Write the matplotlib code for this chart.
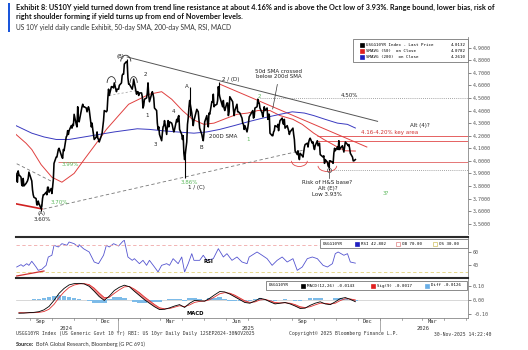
import numpy as np
import pandas as pd
import matplotlib
matplotlib.use("Agg")
import matplotlib.pyplot as plt
import matplotlib.dates as mdates
from matplotlib.patches import Arc, Rectangle
from matplotlib.transforms import blended_transform_factory

# ---------------- data ----------------
holidays = ["2024-09-02", "2024-10-14", "2024-11-11", "2024-11-28", "2024-12-25",
            "2025-01-01", "2025-01-20", "2025-02-17", "2025-04-18", "2025-05-26",
            "2025-06-19", "2025-07-04", "2025-09-01", "2025-10-13", "2025-11-11",
            "2025-11-27"]

# daily closes, US 10Y yield, 12-Aug-2024 .. 28-Nov-2025
closes = [
    3.90, 3.85, 3.83, 3.92, 3.89, 3.87, 3.81, 3.80, 3.86, 3.80, 3.82, 3.83, 3.84, 3.86, 3.91,  # Aug 24
    3.84, 3.77, 3.73, 3.71, 3.70, 3.65, 3.65, 3.68, 3.66, 3.62, 3.64, 3.70, 3.73, 3.73,
    3.75, 3.73, 3.79, 3.79, 3.75, 3.78,  # Sep
    3.74, 3.79, 3.85, 3.98, 4.03, 4.03, 4.06, 4.09, 4.10, 4.03, 4.02, 4.09, 4.08,
    4.19, 4.20, 4.24, 4.21, 4.24, 4.28, 4.26, 4.29, 4.28,  # Oct
    4.37, 4.29, 4.27, 4.43, 4.33, 4.31, 4.43, 4.45, 4.43, 4.43, 4.42, 4.39, 4.41, 4.43,
    4.41, 4.27, 4.30, 4.25, 4.17,  # Nov
    4.19, 4.23, 4.18, 4.17, 4.15, 4.20, 4.22, 4.27, 4.32, 4.40, 4.39, 4.40, 4.50, 4.57,
    4.52, 4.59, 4.59, 4.58, 4.62, 4.55, 4.57,  # Dec
    4.57, 4.60, 4.62, 4.68, 4.69, 4.69, 4.77, 4.79, 4.78, 4.66, 4.61, 4.61, 4.57, 4.60,
    4.65, 4.62, 4.53, 4.55, 4.55, 4.52, 4.54,  # Jan 25
    4.54, 4.51, 4.42, 4.44, 4.49, 4.50, 4.54, 4.62, 4.52, 4.47, 4.55, 4.53, 4.50, 4.42,
    4.40, 4.30, 4.25, 4.27, 4.21,  # Feb
    4.16, 4.22, 4.27, 4.28, 4.32, 4.21, 4.28, 4.32, 4.27, 4.31, 4.30, 4.28, 4.25, 4.23,
    4.25, 4.33, 4.31, 4.35, 4.36, 4.25, 4.21,  # Mar
    4.17, 4.20, 4.06, 4.01, 4.15, 4.29, 4.34, 4.42, 4.48, 4.38, 4.33, 4.28, 4.32, 4.41,
    4.40, 4.39, 4.32, 4.26, 4.21, 4.18, 4.16,  # Apr
    4.22, 4.31, 4.36, 4.30, 4.27, 4.38, 4.37, 4.47, 4.47, 4.53, 4.43, 4.44, 4.45, 4.48,
    4.59, 4.54, 4.51, 4.43, 4.48, 4.42, 4.40,  # May
    4.46, 4.46, 4.36, 4.39, 4.51, 4.48, 4.47, 4.41, 4.36, 4.40, 4.45, 4.39, 4.39, 4.38,
    4.34, 4.30, 4.29, 4.25, 4.28, 4.23,  # Jun
    4.26, 4.30, 4.35, 4.39, 4.40, 4.34, 4.35, 4.42, 4.43, 4.49, 4.46, 4.46, 4.42, 4.38,
    4.35, 4.39, 4.43, 4.40, 4.42, 4.33, 4.37, 4.37,  # Jul
    4.22, 4.20, 4.20, 4.23, 4.24, 4.28, 4.27, 4.29, 4.24, 4.29, 4.32, 4.34, 4.30, 4.29,
    4.33, 4.26, 4.28, 4.26, 4.24, 4.21, 4.23,  # Aug
    4.26, 4.21, 4.17, 4.08, 4.05, 4.08, 4.04, 4.01, 4.06, 4.04, 4.03, 4.07, 4.11, 4.13,
    4.14, 4.11, 4.15, 4.17, 4.18, 4.14, 4.15,  # Sep
    4.11, 4.09, 4.12, 4.16, 4.12, 4.13, 4.14, 4.05, 4.03, 4.04, 3.98, 4.01, 3.99, 3.96,
    3.95, 4.00, 4.00, 3.99, 3.98, 4.06, 4.10, 4.08,  # Oct
    4.11, 4.09, 4.16, 4.09, 4.10, 4.12, 4.07, 4.11, 4.15, 4.13, 4.12, 4.13, 4.10, 4.06,
    4.03, 4.00, 4.00, 4.01,  # Nov
]

# intraday extremes that stick out of the candle band
wick_dates = ["2024-09-16", "2025-01-14", "2025-04-04", "2025-04-11", "2025-05-22", "2025-10-22"]
wick_lo = [3.60, 4.74, 3.86, 4.36, 4.52, 3.93]
wick_hi = [3.66, 4.81, 4.07, 4.59, 4.63, 3.99]

sma50_dates = ["2024-08-12", "2024-08-26", "2024-09-03", "2024-09-16", "2024-10-01",
               "2024-10-15", "2024-11-01", "2024-11-15", "2024-12-02", "2024-12-16",
               "2025-01-02", "2025-01-16", "2025-02-03", "2025-02-14", "2025-03-03",
               "2025-03-17", "2025-04-01", "2025-04-15", "2025-05-01", "2025-05-15",
               "2025-06-02", "2025-06-16", "2025-07-01", "2025-07-15", "2025-08-01",
               "2025-08-15", "2025-09-02", "2025-09-15", "2025-10-01", "2025-10-15",
               "2025-11-03", "2025-11-14", "2025-11-28"]
sma50 = [4.21, 4.14, 4.09, 3.97, 3.87, 3.83, 3.90, 4.01, 4.14, 4.25, 4.36, 4.45, 4.50,
         4.53, 4.55, 4.49, 4.40, 4.33, 4.29, 4.30, 4.34, 4.37, 4.38, 4.40, 4.40, 4.36,
         4.33, 4.29, 4.22, 4.17, 4.11, 4.08, 4.078]

sma200_dates = ["2024-08-12", "2024-09-03", "2024-09-20", "2024-10-07", "2024-10-25",
                "2024-11-15", "2024-12-06", "2024-12-27", "2025-01-28", "2025-02-14",
                "2025-03-03", "2025-03-24", "2025-04-17", "2025-05-05", "2025-05-23",
                "2025-06-12", "2025-07-01", "2025-07-22", "2025-08-15", "2025-09-01",
                "2025-09-18", "2025-10-01", "2025-10-17", "2025-11-03", "2025-11-17",
                "2025-11-28"]
sma200 = [4.28, 4.22, 4.19, 4.17, 4.17, 4.19, 4.21, 4.23, 4.255, 4.25, 4.24, 4.23, 4.22,
          4.23, 4.25, 4.28, 4.31, 4.34, 4.37, 4.39, 4.38, 4.36, 4.33, 4.30, 4.29, 4.261]

rsi_dates = ["2024-08-13", "2024-08-19", "2024-08-22", "2024-08-27", "2024-08-30",
             "2024-09-03", "2024-09-09", "2024-09-12", "2024-09-17", "2024-09-23", "2024-09-26",
             "2024-10-01", "2024-10-04", "2024-10-10", "2024-10-15", "2024-10-22", "2024-10-25",
             "2024-11-01", "2024-11-07", "2024-11-08", "2024-11-14", "2024-11-22", "2024-11-29",
             "2024-12-05", "2024-12-12", "2024-12-16", "2024-12-20", "2024-12-26",
             "2025-01-02", "2025-01-08", "2025-01-10", "2025-01-15", "2025-01-21", "2025-01-24",
             "2025-01-31", "2025-02-05", "2025-02-10", "2025-02-14", "2025-02-21", "2025-02-26",
             "2025-03-03", "2025-03-10", "2025-03-14", "2025-03-19", "2025-03-26", "2025-03-31",
             "2025-04-04", "2025-04-09", "2025-04-14", "2025-04-17", "2025-04-25", "2025-04-30",
             "2025-05-05", "2025-05-14", "2025-05-21", "2025-05-28", "2025-06-02", "2025-06-09",
             "2025-06-16", "2025-06-23", "2025-06-30", "2025-07-03", "2025-07-14", "2025-07-21",
             "2025-07-28", "2025-08-04", "2025-08-11", "2025-08-18", "2025-08-25", "2025-09-02",
             "2025-09-08", "2025-09-15", "2025-09-22", "2025-09-29", "2025-10-06", "2025-10-14",
             "2025-10-20", "2025-10-27", "2025-10-31", "2025-11-04", "2025-11-12", "2025-11-17",
             "2025-11-21", "2025-11-28"]
rsi = [37, 40.5, 38, 42, 39.5,
       45.6, 37, 32, 33.6, 39.5, 52,
       54.6, 69.6, 67, 72, 69.6, 74.5,
       72, 67, 70.5, 64.5, 59.5, 44.5,
       42, 54.6, 69.6, 67, 72,
       68.5, 75.6, 77, 52, 47, 49.5,
       42, 47, 39.5, 47, 37, 29.6,
       39.5, 42, 39.5, 49.5, 42, 52,
       29.6, 42, 57, 47, 47, 54.6,
       47, 49.5, 64.5, 52, 57, 47,
       52, 44.5, 42, 52, 59.5, 54.6,
       49.5, 39.5, 47, 52, 44.5, 49.5,
       32, 37, 49.5, 52, 49.5, 39.5,
       37, 42, 57, 59.5, 54.6, 57,
       44.5, 42.8]

# weekly (Fridays) MACD(12,26), signal(9) and diff
macd = [-0.096, -0.095, -0.092, -0.090, -0.085, -0.072, -0.048, -0.005, 0.045, 0.080,
        0.105, 0.114, 0.116, 0.112, 0.095, 0.060, 0.022, -0.005, 0.025, 0.065,
        0.088, 0.103, 0.092, 0.060, 0.030, 0.000, -0.025, -0.050, -0.070, -0.068,
        -0.058, -0.045, -0.035, -0.055, -0.025, -0.005, -0.008, -0.010, 0.010, 0.035,
        0.058, 0.055, 0.040, 0.020, 0.000, -0.020, -0.025, -0.010, 0.010, 0.002,
        -0.015, -0.030, -0.025, -0.020, -0.030, -0.045, -0.062, -0.060, -0.040, -0.025,
        -0.015, -0.030, -0.035, -0.015, 0.008, 0.015, 0.002, -0.0143]
signal = [-0.092, -0.093, -0.093, -0.092, -0.090, -0.084, -0.068, -0.033, 0.015, 0.055,
          0.087, 0.104, 0.112, 0.114, 0.107, 0.082, 0.047, 0.015, 0.017, 0.045,
          0.070, 0.091, 0.094, 0.075, 0.050, 0.020, -0.007, -0.034, -0.057, -0.065,
          -0.063, -0.053, -0.043, -0.049, -0.037, -0.019, -0.012, -0.010, 0.000, 0.020,
          0.042, 0.050, 0.046, 0.032, 0.012, -0.008, -0.019, -0.016, -0.002, 0.002,
          -0.007, -0.020, -0.023, -0.022, -0.025, -0.035, -0.050, -0.056, -0.050, -0.037,
          -0.025, -0.026, -0.031, -0.025, -0.006, 0.007, 0.005, -0.0017]
diff = [-0.004, -0.002, 0.001, 0.002, 0.005, 0.012, 0.020, 0.028, 0.030, 0.025,
        0.018, 0.010, 0.004, -0.002, -0.012, -0.022, -0.025, -0.020, 0.008, 0.020,
        0.018, 0.012, -0.002, -0.015, -0.020, -0.020, -0.018, -0.016, -0.013, -0.003,
        0.005, 0.008, 0.008, -0.006, 0.012, 0.014, 0.004, 0.000, 0.010, 0.015,
        0.016, 0.005, -0.006, -0.012, -0.012, -0.012, -0.006, 0.006, 0.012, 0.000,
        -0.008, -0.010, -0.002, 0.002, -0.005, -0.010, -0.012, -0.004, 0.010, 0.012,
        0.010, -0.004, -0.004, 0.010, 0.014, 0.008, -0.003, -0.0126]

month_ticks = ["2024-09-15", "2024-12-15", "2025-03-15", "2025-06-15",
               "2025-09-15", "2025-12-15", "2026-03-15"]
month_labels = ["Sep", "Dec", "Mar", "Jun", "Sep", "Dec", "Mar"]
year_pos = ["2024-10-21", "2025-07-02", "2026-03-03"]
year_labels = ["2024", "2025", "2026"]

# ---------------- figure ----------------
W, H = 528, 350
fig = plt.figure(figsize=(W / 100, H / 100), dpi=100)
fig.patch.set_facecolor("white")


def fx(x):
    return x / W


def fy(y):
    return 1 - y / H


def box(x0, y0, x1, y1):
    return [fx(x0), fy(y1), (x1 - x0) / W, (y1 - y0) / H]


ax = fig.add_axes(box(16, 37, 468, 234))
ax_rsi = fig.add_axes(box(16, 237, 468, 277), sharex=ax)
ax_macd = fig.add_axes(box(16, 278, 468, 318), sharex=ax)

T = pd.to_datetime
x0, x1 = T("2024-08-12"), T("2026-05-04")
mono = "DejaVu Sans Mono"
tick_fs = 3.6

for a in (ax, ax_rsi, ax_macd):
    for s in ("left", "top", "bottom"):
        a.spines[s].set_visible(False)
    a.spines["right"].set_color("#888888")
    a.spines["right"].set_linewidth(0.6)
    a.yaxis.tick_right()
    a.tick_params(axis="y", direction="out", length=2.5, width=0.5, colors="#555555",
                  labelsize=tick_fs, pad=1)
    a.tick_params(axis="x", bottom=False, labelbottom=False)
    a.set_facecolor("none")

# ---- main price panel ----
days = pd.bdate_range("2024-08-12", "2025-11-28")
days = days[~days.isin(T(holidays))]
n = min(len(days), len(closes))
ax.plot(days[:n], closes[:n], color="black", lw=1.15, zorder=5)
ax.vlines(T(wick_dates), wick_lo, wick_hi, color="black", lw=0.8, zorder=5)
ax.plot(T(sma50_dates), sma50, color="#e0403f", lw=0.7, zorder=4)
ax.plot(T(sma200_dates), sma200, color="#3a3ac0", lw=0.7, zorder=4)

ax.set_xlim(x0, x1)
ax.set_ylim(3.418, 4.985)
yt = np.round(np.arange(3.5, 4.95, 0.1), 1)
ax.set_yticks(yt)
ax.set_yticklabels([f"{v:.4f}" for v in yt], family=mono)

# levels
ax.hlines(3.99, T("2024-10-10"), x1, color="#e06060", lw=0.6)
ax.hlines([4.16, 4.20], T("2025-10-06"), x1, color="#e04848", lw=0.6)
ax.hlines(4.50, T("2025-07-18"), x1, color="#888888", lw=0.6, linestyles=(0, (1, 1.5)))
ax.hlines(3.93, T("2025-10-22"), x1, color="#888888", lw=0.6, linestyles=(0, (1, 1.5)))

# drawn trend lines
trend = [
    ("2025-01-14", 4.826, "2025-12-29", 4.314, "#555555", "-", 0.7),
    ("2025-05-23", 4.61, "2025-12-14", 4.11, "#e04040", "-", 0.7),
    ("2024-09-19", 3.616, "2025-09-19", 4.088, "#777777", (0, (4, 3)), 0.6),
    ("2024-08-13", 3.977, "2024-10-03", 3.83, "#777777", (0, (4, 3)), 0.6),
    ("2024-12-20", 4.52, "2025-01-28", 4.56, "#999999", (0, (3, 3)), 0.5),
    ("2024-08-12", 3.658, "2024-09-17", 3.618, "#d02020", "-", 1.2),
]
for d1, v1, d2, v2, c, ls, lw in trend:
    ax.plot([T(d1), T(d2)], [v1, v2], color=c, ls=ls, lw=lw, zorder=3)

# pattern arcs
arcs = [
    ("2024-12-23", 4.62, 12, 0.10, 0, 180, "#333333"),
    ("2025-01-12", 4.79, 14, 0.10, 0, 180, "#333333"),
    ("2025-01-23", 4.62, 10, 0.10, 0, 180, "#333333"),
    ("2025-09-11", 4.00, 22, 0.09, 180, 360, "#e04848"),
    ("2025-10-20", 3.96, 26, 0.09, 180, 360, "#e04848"),
]
for d, v, w, h, t1, t2, c in arcs:
    ax.add_patch(Arc((mdates.date2num(T(d)), v), w, h, theta1=t1, theta2=t2,
                     color=c, lw=0.6, zorder=6))
ax.plot(T("2025-10-22"), 3.93, marker="o", ms=3, mfc="none", mec="#666666", mew=0.6, zorder=7)
ax.plot([T("2025-10-22"), T("2025-10-22")], [3.925, 3.865], color="#333333", lw=0.5)
ax.annotate("", xy=(T("2025-08-04"), 4.39), xytext=(T("2025-08-12"), 4.63),
            arrowprops=dict(arrowstyle="-", color="#333333", lw=0.5))

lab_fs = 4.0
labels = [
    ("(A)", "2024-09-17", 3.578, "#222222"),
    ("3.60%", "2024-09-17", 3.534, "#222222"),
    ("3.70%", "2024-10-12", 3.668, "#5cb85c"),
    ("3.99%", "2024-10-26", 3.968, "#5cb85c"),
    ("(B)", "2025-01-04", 4.83, "#222222"),
    ("2", "2025-02-09", 4.69, "#222222"),
    ("1", "2025-02-11", 4.36, "#222222"),
    ("3", "2025-02-22", 4.13, "#222222"),
    ("4", "2025-03-20", 4.39, "#222222"),
    ("A", "2025-04-07", 4.59, "#222222"),
    ("B", "2025-04-27", 4.11, "#222222"),
    ("3.86%", "2025-04-11", 3.826, "#5cb85c"),
    ("1 / (C)", "2025-04-20", 3.785, "#222222"),
    ("2 / (D)", "2025-06-07", 4.65, "#222222"),
    ("200D SMA", "2025-05-28", 4.193, "#222222"),
    ("2", "2025-07-17", 4.51, "#5cb85c"),
    ("1", "2025-07-01", 4.17, "#5cb85c"),
    ("50d SMA crossed", "2025-08-13", 4.71, "#222222"),
    ("below 200d SMA", "2025-08-13", 4.67, "#222222"),
    ("4.50%", "2025-11-20", 4.517, "#222222"),
    ("Alt (4)?", "2026-02-26", 4.28, "#222222"),
    ("4.16-4.20% key area", "2026-01-15", 4.222, "#d03030"),
    ("3?", "2026-01-09", 3.74, "#5cb85c"),
    ("Risk of H&S base?", "2025-10-20", 3.828, "#222222"),
    ("Alt (E)?", "2025-10-20", 3.781, "#222222"),
    ("Low 3.93%", "2025-10-20", 3.734, "#222222"),
]
for t, d, v, c in labels:
    ax.text(T(d), v, t, fontsize=lab_fs, color=c, ha="center", va="center", zorder=8)

# ---- RSI panel ----
ax_rsi.plot(T(rsi_dates), rsi, color="#5555d0", lw=0.6)
ax_rsi.axhline(70, color="#f0a8a8", lw=0.6, ls=(0, (4, 3)))
ax_rsi.axhline(30, color="#e2d27a", lw=0.6, ls=(0, (4, 3)))
ax_rsi.plot([T("2024-08-13"), T("2024-09-20")], [23.5, 31], color="#d03030", lw=0.9)
ax_rsi.set_ylim(22, 82)
ax_rsi.set_yticks([40, 60])
ax_rsi.set_yticklabels(["40", "60"], family=mono)
ax_rsi.text(T("2025-05-07"), 45, "RSI", fontsize=3.8, fontweight="bold", ha="center", va="center")

# ---- MACD panel ----
wk = pd.date_range("2024-08-16", "2025-11-28", freq="W-FRI")
m = min(len(wk), len(macd), len(signal), len(diff))
wk = wk[:m]
mc, sg, df = np.array(macd[:m]), np.array(signal[:m]), np.array(diff[:m])
ax_macd.axhline(0, color="#c8c8c8", lw=0.5)
ax_macd.bar(wk, df, width=6.5, color="#7dbbe8", edgecolor="none", zorder=2)
ax_macd.fill_between(wk, mc, sg, where=mc < sg, color="#ee7070", alpha=0.85, lw=0, zorder=3,
                     interpolate=True)
ax_macd.plot(wk, sg, color="#e03030", lw=0.6, zorder=4)
ax_macd.plot(wk, mc, color="black", lw=0.6, zorder=5)
ax_macd.set_ylim(-0.130, 0.154)
ax_macd.set_yticks([-0.1, 0.0, 0.1])
ax_macd.set_yticklabels(["-0.10", "0.00", "0.10"], family=mono)
ax_macd.spines["bottom"].set_visible(True)
ax_macd.spines["bottom"].set_color("#888888")
ax_macd.spines["bottom"].set_linewidth(0.6)
ax_macd.text(T("2025-04-19"), -0.095, "MACD", fontsize=3.8, fontweight="bold", ha="center", va="center")

# month / year labels under the time axis
tb = blended_transform_factory(ax_macd.transData, fig.transFigure)
for d, t in zip(month_ticks, month_labels):
    fig.text(mdates.date2num(T(d)), fy(321.5), t, transform=tb, fontsize=3.9, family=mono,
             ha="center", va="center", color="#333333")
for d, t in zip(year_pos, year_labels):
    fig.text(mdates.date2num(T(d)), fy(328), t, transform=tb, fontsize=3.9, family=mono,
             ha="center", va="center", color="#333333")
for d in ("2025-01-01", "2026-01-01"):
    xv = mdates.date2num(T(d))
    fig.add_artist(plt.Line2D([xv, xv], [fy(319), fy(331)], transform=tb, color="#888888", lw=0.5))
for mo in pd.date_range("2024-09-01", "2026-05-01", freq="MS"):
    xv = mdates.date2num(mo)
    fig.add_artist(plt.Line2D([xv, xv], [fy(318), fy(320)], transform=tb, color="#888888", lw=0.5))

# panel separators
for y in (236.5, 277.5):
    fig.add_artist(plt.Line2D([fx(16), fx(468)], [fy(y), fy(y)], color="#2b2b2b", lw=1.5))

# ---- legend boxes ----
leg_fs = 3.0


def legend_box(xa, ya, xb, yb):
    fig.add_artist(Rectangle((fx(xa), fy(yb)), (xb - xa) / W, (yb - ya) / H,
                             transform=fig.transFigure, facecolor="white",
                             edgecolor="#777777", lw=0.6, zorder=9))


def swatch(x, y, c, filled=True):
    fig.add_artist(Rectangle((fx(x - 2), fy(y + 2)), 4 / W, 4 / H, transform=fig.transFigure,
                             facecolor=c if filled else "white", edgecolor=c, lw=0.5, zorder=10))


def ftext(x, y, s, ha="left", **kw):
    fig.text(fx(x), fy(y), s, fontsize=leg_fs, family=mono, ha=ha, va="center", zorder=11, **kw)


legend_box(353, 39, 468, 62)
rows = [("USGG10YR Index - Last Price", "4.0132", "black"),
        ("SMAVG (50)  on Close", "4.0782", "#e02020"),
        ("SMAVG (200)  on Close", "4.2610", "#2020c0")]
for i, (nm, val, c) in enumerate(rows):
    yy = 45 + i * 5.8
    swatch(362, yy, c)
    ftext(366, yy, nm)
    ftext(466, yy, val, ha="right")

legend_box(320, 239, 468, 248.3)
ftext(323, 243.7, "USGG10YR")
swatch(357, 243.7, "#2020c0")
ftext(361, 243.7, "RSI 42.802")
swatch(398, 243.7, "#e08080", filled=False)
ftext(402, 243.7, "OB 70.00")
swatch(435, 243.7, "#d0c060", filled=False)
ftext(439, 243.7, "OS 30.00")

legend_box(266, 281, 467, 290)
ftext(269, 285.5, "USGG10YR")
swatch(303, 285.5, "black")
ftext(307, 285.5, "MACD(12,26) -0.0143")
swatch(373, 285.5, "#e02020")
ftext(377, 285.5, "Sig(9) -0.0017")
swatch(427, 285.5, "#6aaee6")
ftext(431, 285.5, "Diff -0.0126")

# ---- titles, footer ----
fig.add_artist(Rectangle((fx(7.5), fy(32)), 2.5 / W, 29 / H, transform=fig.transFigure,
                         facecolor="#1a56db", edgecolor="none"))
title1 = ("Exhibit 8: US10Y yield turned down from trend line resistance at about 4.16% and is "
          "above the Oct low of 3.93%. Range bound, lower bias, risk of")
title2 = "right shoulder forming if yield turns up from end of November levels."
fig.text(fx(16), fy(7.5), title1, fontsize=5.3, fontweight="bold", family="Lato", va="center",
         color="#111111")
fig.text(fx(16), fy(17), title2, fontsize=5.3, fontweight="bold", family="Lato", va="center",
         color="#111111")
fig.text(fx(16), fy(27), "US 10Y yield daily candle Exhibit, 50-day SMA, 200-day SMA, RSI, MACD",
         fontsize=4.8, family="Lato", va="center", color="#333333")

fig.text(fx(16), fy(334), "USGG10YR Index (US Generic Govt 10 Yr) RBI: US 10yr Daily Daily "
         "12SEP2024-30NOV2025", fontsize=3.4, family=mono, va="center", color="#333333")
fig.text(fx(289), fy(334), "Copyright\u00a9 2025 Bloomberg Finance L.P.", fontsize=3.4,
         family=mono, va="center", color="#333333")
fig.text(fx(491), fy(334), "30-Nov-2025 14:22:40", fontsize=3.4, family=mono, va="center",
         ha="right", color="#333333")
fig.text(fx(16), fy(344), "Source:", fontsize=4.0, family="Lato", fontweight="bold",
         va="center", color="#222222")
fig.text(fx(36), fy(344), "BofA Global Research, Bloomberg (G PC 691)", fontsize=4.0,
         family="Lato", va="center", color="#333333")

fig.savefig("out.png", dpi=100)
